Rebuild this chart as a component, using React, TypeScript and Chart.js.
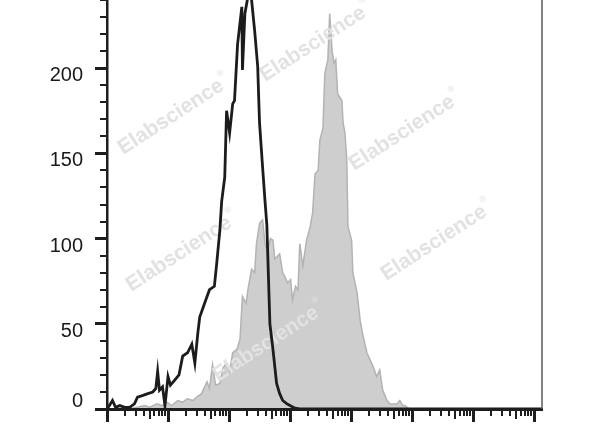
import React, { useEffect, useRef } from 'react';
import { Chart, registerables } from 'chart.js';

Chart.register(...registerables);

// x positions are in log10 decades of fluorescence intensity (0 = 10^0 ... 7 = 10^7)
const controlX = [0.0, 0.04, 0.09, 0.14, 0.21, 0.29, 0.37, 0.45, 0.5, 0.59, 0.67, 0.75, 0.8, 0.83, 0.86, 0.91, 0.95, 1.0, 1.04, 1.11, 1.18, 1.24, 1.32, 1.39, 1.44, 1.49, 1.52, 1.6, 1.68, 1.76, 1.8, 1.85, 1.88, 1.93, 1.96, 2.01, 2.06, 2.09, 2.14, 2.21, 2.22, 2.26, 2.31, 2.34, 2.37, 2.42, 2.47, 2.5, 2.55, 2.59, 2.62, 2.67, 2.72, 2.78, 2.83, 2.88, 2.95, 3.0, 3.08, 3.16, 7.13];
const controlY = [0, 2, 5, 1, 2, 1, 1, 3, 7, 8, 9, 10, 12, 22, 11, 13, 2, 19, 14, 17, 20, 31, 33, 38, 27, 45, 54, 62, 70, 72, 86, 105, 122, 136, 175, 162, 179, 181, 214, 236, 199, 232, 242, 245, 240, 222, 201, 168, 142, 122, 108, 50, 35, 15, 9, 5, 3, 2, 0.5, 0, 0];

const stainedX = [0.37, 0.49, 0.62, 0.7, 0.82, 0.91, 0.98, 1.06, 1.16, 1.24, 1.32, 1.41, 1.47, 1.55, 1.64, 1.68, 1.73, 1.78, 1.85, 1.9, 1.96, 2.01, 2.06, 2.13, 2.18, 2.22, 2.28, 2.31, 2.37, 2.42, 2.45, 2.5, 2.55, 2.59, 2.63, 2.68, 2.72, 2.75, 2.78, 2.83, 2.88, 2.91, 2.96, 3.01, 3.04, 3.09, 3.13, 3.16, 3.21, 3.27, 3.33, 3.37, 3.41, 3.46, 3.49, 3.54, 3.57, 3.62, 3.65, 3.69, 3.72, 3.75, 3.78, 3.85, 3.87, 3.9, 3.93, 3.95, 3.98, 4.01, 4.03, 4.1, 4.15, 4.19, 4.26, 4.31, 4.36, 4.42, 4.47, 4.52, 4.59, 4.64, 4.75, 4.8, 4.85, 4.88, 4.96, 7.13];
const stainedY = [0, 1, 2, 1, 3, 2, 4, 2, 5, 4, 6, 5, 7, 9, 16, 12, 26, 14, 15, 24, 27, 22, 33, 35, 41, 66, 62, 70, 82, 80, 97, 109, 111, 97, 93, 100, 99, 88, 89, 91, 80, 78, 74, 76, 64, 72, 70, 97, 84, 99, 107, 115, 138, 140, 158, 165, 197, 205, 232, 210, 203, 205, 185, 181, 168, 162, 146, 107, 103, 99, 80, 68, 52, 44, 33, 29, 25, 19, 23, 11, 5, 3, 3, 5, 2, 2, 0, 0];

const yTickValues = [0, 50, 100, 150, 200];
const xDecades = [0, 1, 2, 3, 4, 5, 6, 7];
const xMax = 7.13;
const yMax = 240;
const watermarkText = 'Elabscience';
const watermarkMark = '®';
const watermarkCenters: [number, number][] = [
  [313, 44], [171, 117], [402, 133], [179, 254], [434, 243], [266, 344],
];

const AXIS = '#1e1e1e';
const FONT = '"Liberation Sans", Arial, sans-serif';

const minorTicksPlugin = {
  id: 'minorTicks',
  afterDraw(chart: any) {
    const { ctx, chartArea } = chart;
    const xs = chart.scales.x;
    const ys = chart.scales.y;
    ctx.save();
    ctx.strokeStyle = AXIS;
    ctx.lineWidth = 2;
    ctx.beginPath();
    for (const d of xDecades) {
      for (let k = 2; k <= 9; k++) {
        const v = d + Math.log10(k);
        if (v > xMax) continue;
        const px = Math.round(xs.getPixelForValue(v));
        const len = k === 5 ? 10 : 7;
        ctx.moveTo(px, chartArea.bottom);
        ctx.lineTo(px, chartArea.bottom + len);
      }
    }
    for (let v = 10; v <= yMax; v += 10) {
      if (yTickValues.includes(v)) continue;
      const py = Math.round(ys.getPixelForValue(v));
      ctx.moveTo(chartArea.left, py);
      ctx.lineTo(chartArea.left - 7, py);
    }
    ctx.stroke();
    // right frame line
    ctx.strokeStyle = '#5a5a5a';
    ctx.lineWidth = 1.5;
    ctx.beginPath();
    ctx.moveTo(chartArea.right, chartArea.top);
    ctx.lineTo(chartArea.right, chartArea.bottom);
    ctx.stroke();
    ctx.restore();
  },
};

const watermarkPlugin = {
  id: 'watermark',
  afterDatasetDraw(chart: any, args: any) {
    if (args.index !== 1) return;
    const { ctx } = chart;
    ctx.save();
    for (const [cx, cy] of watermarkCenters) {
      ctx.save();
      ctx.translate(cx, cy);
      ctx.rotate((-33 * Math.PI) / 180);
      ctx.font = `bold 21px ${FONT}`;
      ctx.fillStyle = '#e2e2e2';
      ctx.textAlign = 'center';
      ctx.textBaseline = 'middle';
      ctx.fillText(watermarkText, 0, 0);
      const w = ctx.measureText(watermarkText).width;
      ctx.font = `9px ${FONT}`;
      ctx.textAlign = 'left';
      ctx.fillText(watermarkMark, w / 2 + 1, -10);
      ctx.restore();
    }
    ctx.restore();
  },
};

export default function App() {
  const ref = useRef<HTMLCanvasElement | null>(null);
  useEffect(() => {
    if (!ref.current) return;
    const chart = new Chart(ref.current, {
      type: 'line',
      data: {
        datasets: [
          {
            label: 'Control',
            data: controlX.map((x, i) => ({ x, y: controlY[i] })),
            borderColor: '#1c1c1c',
            borderWidth: 2.8,
            pointRadius: 0,
            tension: 0,
            fill: false,
            order: 0,
          },
          {
            label: 'Stained',
            data: stainedX.map((x, i) => ({ x, y: stainedY[i] })),
            borderColor: '#b3b3b3',
            backgroundColor: '#cecece',
            borderWidth: 1.5,
            pointRadius: 0,
            tension: 0,
            fill: 'origin',
            order: 1,
          },
        ],
      },
      options: {
        animation: false,
        responsive: false,
        layout: { padding: { top: 0, right: 58, bottom: 0, left: 0 } },
        plugins: { legend: { display: false }, tooltip: { enabled: false } },
        scales: {
          x: {
            type: 'linear',
            min: 0,
            max: xMax,
            afterBuildTicks: (s: any) => {
              s.ticks = xDecades.map((v) => ({ value: v }));
            },
            afterFit: (s: any) => {
              s.height = 18;
              s.paddingLeft = 0;
              s.paddingRight = 0;
              s.paddingTop = 0;
              s.paddingBottom = 0;
            },
            ticks: { display: false },
            grid: {
              drawOnChartArea: false,
              drawTicks: true,
              tickLength: 13,
              tickWidth: 3,
              tickColor: AXIS,
              z: 2,
            },
            border: { display: true, color: AXIS, width: 3, z: 3 },
          },
          y: {
            type: 'linear',
            min: 0,
            max: yMax,
            afterBuildTicks: (s: any) => {
              s.ticks = yTickValues.map((v) => ({ value: v }));
            },
            afterFit: (s: any) => {
              s.width = 107;
              s.paddingLeft = 0;
              s.paddingRight = 0;
              s.paddingTop = 0;
              s.paddingBottom = 0;
            },
            ticks: {
              padding: 12,
              color: '#1a1a1a',
              font: { family: FONT, size: 20, lineHeight: 0.75 },
              callback: (value: any) => (Number(value) === 0 ? ['0', ''] : ['', String(value)]),
            },
            grid: {
              drawOnChartArea: false,
              drawTicks: true,
              tickLength: 12,
              tickWidth: 3,
              tickColor: AXIS,
              z: 2,
            },
            border: { display: true, color: AXIS, width: 2.5, z: 3 },
          },
        },
      },
      plugins: [watermarkPlugin, minorTicksPlugin],
    } as any);
    return () => chart.destroy();
  }, []);
  return (
    <div style={{ position: 'fixed', left: 0, top: 0, width: 600, height: 427, background: '#fff' }}>
      <canvas ref={ref} width={600} height={427} style={{ display: 'block' }} />
    </div>
  );
}
